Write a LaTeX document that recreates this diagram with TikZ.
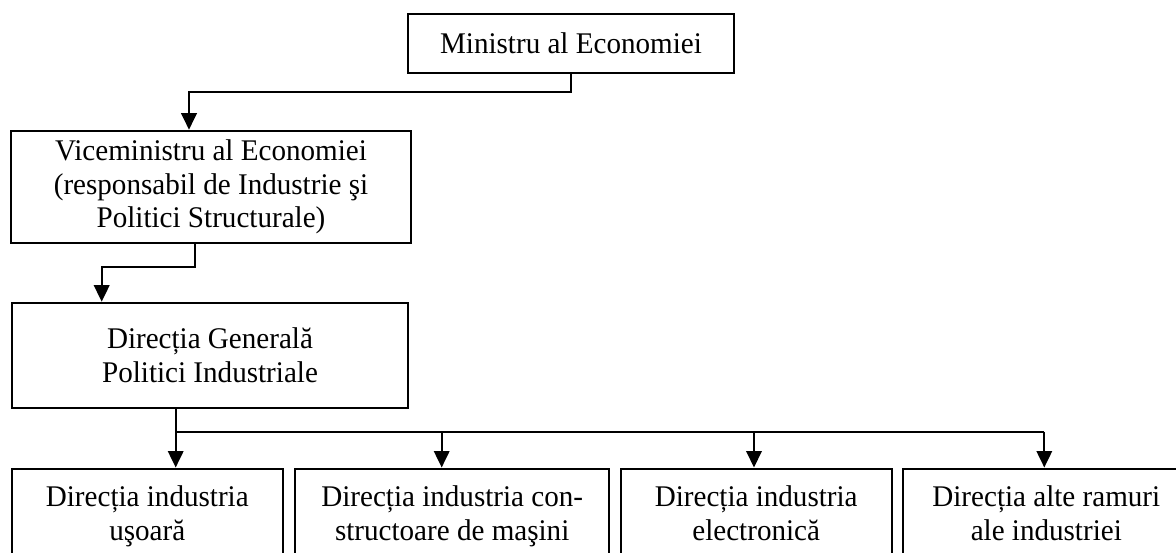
\documentclass[tikz,border=0pt]{standalone}
\usepackage{fontspec}
\setmainfont{Liberation Serif}[FakeStretch=0.97]
\usepackage{tikz}
\usetikzlibrary{arrows.meta}

\begin{document}
\begin{tikzpicture}[x=1pt,y=-1pt,
		box/.style={draw,line width=2pt,align=center,inner sep=0pt,
			font=\fontsize{30pt}{33.4pt}\selectfont},
		low/.style={box,text depth=6pt,minimum height=95.2},
		link/.style={line width=2pt},
		arr/.style={link,-{Triangle[length=16.5pt,width=15.5pt]}}]
		\useasboundingbox (0,0) rectangle (1176,552);
		\clip (0,0) rectangle (1176,552);
		% boxes
		\node[box,minimum width=326,minimum height=59] (min) at (571,43.7) {Ministru al Economiei};
		\node[box,minimum width=400,minimum height=112.6] (vice) at (211,187) {Viceministru al Economiei\\(responsabil de Industrie şi\\Politici Structurale)};
		\node[box,minimum width=396,minimum height=105] (dg) at (210,355.2) {Direcția Generală\\Politici Industriale};
		\node[low,minimum width=270.7] (b1) at (147.3,516.1) {Direcția industria\\uşoară};
		\node[low,minimum width=314.3] (b2) at (452.2,516.1) {Direcția industria con-\\structoare de maşini};
		\node[low,minimum width=271] (b3) at (756.2,516.1) {Direcția industria\\electronică};
		\node[low,minimum width=286] (b4) at (1046.3,516.1) {Direcția alte ramuri\\ale industriei};
		% joints
		\coordinate (j1) at (189,91.7);
		\coordinate (j2) at (195,266.7);
		\coordinate (j3) at (101.7,266.7);
		\coordinate (t1) at (175.7,431.7);
		\coordinate (t2) at (441.7,431.7);
		\coordinate (t3) at (754,431.7);
		\coordinate (t4) at (1044.3,431.7);
		% connectors
		\draw[arr] (min.south) |- (j1) -- (j1 |- vice.north);
		\draw[arr] (vice.south -| j2) -- (j2) -- (j3) -- (j3 |- dg.north);
		\draw[link] (dg.south -| t1) -- (t1) -- (t4);
		\draw[arr] (t1) -- (t1 |- b1.north);
		\draw[arr] (t2) -- (t2 |- b2.north);
		\draw[arr] (t3) -- (t3 |- b3.north);
		\draw[arr] (t4) -- (t4 |- b4.north);
	\end{tikzpicture}
\end{document}
